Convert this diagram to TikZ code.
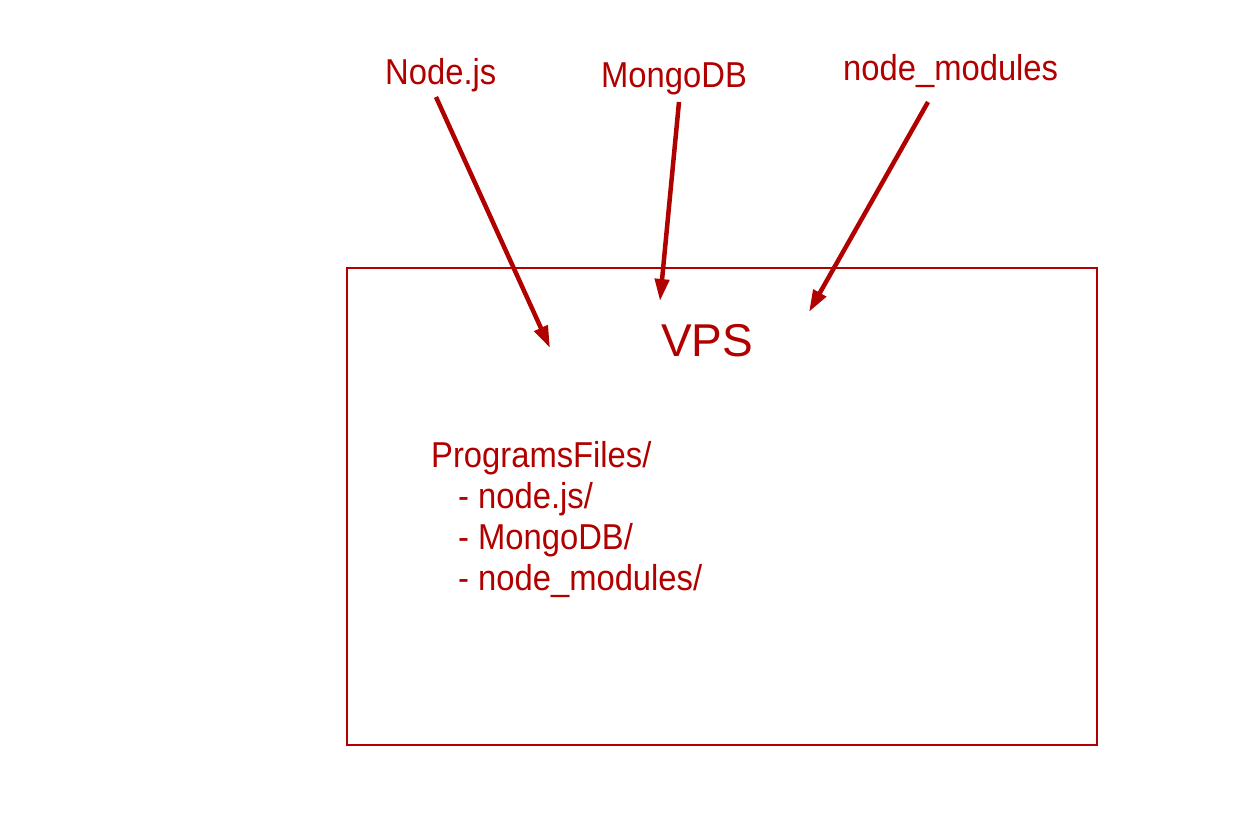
\documentclass[tikz,border=0pt]{standalone}
\usepackage{fontspec}
\setmainfont{Liberation Sans}
\usetikzlibrary{arrows.meta}
\definecolor{dred}{RGB}{176,0,0}
\newcommand{\sq}[1]{\scalebox{0.91}[1]{#1}}
\begin{document}
\begin{tikzpicture}[x=1pt,y=-1pt,
  lbl/.style={anchor=base west,inner sep=0,text=dred,font=\fontsize{36}{41}\selectfont},
  big/.style={anchor=base west,inner sep=0,text=dred,font=\fontsize{46}{50}\selectfont},
  arr/.style={draw=dred,line width=4.5pt,-{Triangle[length=22pt,width=14pt]}},
  box/.style={draw=dred,line width=1.5pt}]
\useasboundingbox (0,0) rectangle (1237,822);
\draw[box] (347,268) rectangle (1097,745);
\node[lbl] (nodejs) at (385,84) {\sq{Node.js}};
\node[lbl] (mongo) at (601,87) {\sq{MongoDB}};
\node[lbl] (nm) at (843,80) {\sq{node\_modules}};
\node[big] (vps) at (661,356) {VPS};
\node[lbl] (l1) at (431,467) {\sq{ProgramsFiles/}};
\node[lbl] (l2) at (458,508) {\sq{- node.js/}};
\node[lbl] (l3) at (458,549) {\sq{- MongoDB/}};
\node[lbl] (l4) at (458,590) {\sq{- node\_modules/}};
\coordinate (a1) at (436,97);
\coordinate (b1) at (550,348);
\coordinate (a2) at (679,102);
\coordinate (b2) at (660,301);
\coordinate (a3) at (928,102);
\coordinate (b3) at (809,312);
\draw[arr] (a1) -- (b1);
\draw[arr] (a2) -- (b2);
\draw[arr] (a3) -- (b3);
\end{tikzpicture}
\end{document}
